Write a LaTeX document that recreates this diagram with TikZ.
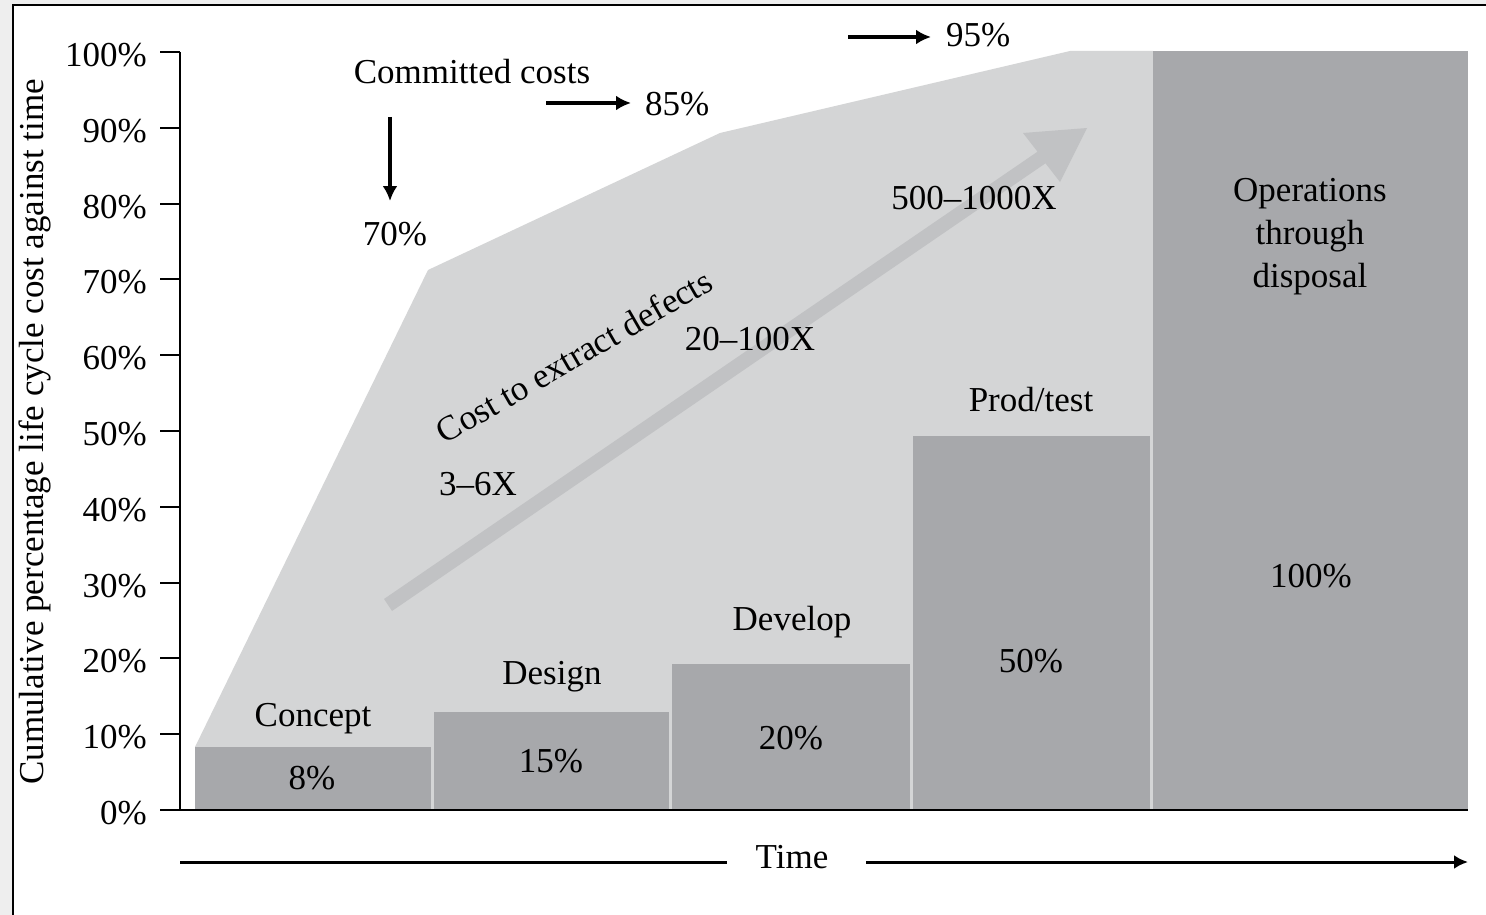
\documentclass[tikz,border=0pt]{standalone}
\usepackage{fontspec}
\setmainfont{Liberation Serif}
\usetikzlibrary{arrows.meta}
\definecolor{outerbg}{HTML}{EEEEEE}
\definecolor{barcol}{HTML}{A7A8AB}
\definecolor{areacol}{HTML}{D4D5D6}
\definecolor{arrowcol}{HTML}{C1C2C4}
\tikzset{
  lbl/.style={font=\fontsize{35}{43}\selectfont, inner sep=0pt},
  bar/.style={fill=barcol, draw=none},
  axisline/.style={line width=2pt, black},
  ptr/.style={line width=3.3pt, -{Latex[length=15pt,width=15pt]}},
}
\begin{document}
\begin{tikzpicture}[x=1pt,y=-1pt]
\useasboundingbox (0,0) rectangle (1486,915);
% frame
\fill[outerbg] (0,0) rectangle (1486,915);
\fill[white] (13,5) rectangle (1486,915);
\draw[line width=2.5pt] (13,915) -- (13,5) -- (1486,5);
% committed cost area
\fill[areacol] (195,810) -- (195,747) -- (428,270) -- (720,133) -- (1070,51) -- (1153,51) -- (1153,810) -- cycle;
% bars
\fill[bar] (195,747) rectangle (431,810);
\fill[bar] (434,712) rectangle (669,810);
\fill[bar] (672,664) rectangle (910,810);
\fill[bar] (913,436) rectangle (1150,810);
\fill[bar] (1153,51) rectangle (1468,810);
% wide arrow
\fill[arrowcol] (384,599) -- (1037.5,151.7) -- (1023,133) -- (1087,128) -- (1060,182) -- (1045.5,163.3) -- (392,611) -- cycle;
% axes
\draw[axisline] (180,52) -- (180,810) -- (1468,810);
\foreach \i in {0,...,10} {
  \pgfmathsetmacro{\yy}{810-75.8*\i}
  \draw[axisline] (160,\yy) -- (180,\yy);
  \pgfmathtruncatemacro{\pp}{10*\i}
  \node[lbl, anchor=east] (tick\i) at (147,\yy+3) {\pp\%};
}
\node[lbl, rotate=90] (ytitle) at (35,432) {Cumulative percentage life cycle cost against time};
% time axis
\node[lbl] (time) at (792,857) {Time};
\coordinate (tl) at (180,862);
\coordinate (tlend) at (727,862);
\coordinate (trstart) at (866,862);
\coordinate (tr) at (1468,862);
\draw[line width=3pt] (tl) -- (tlend);
\draw[line width=3pt, -{Latex[length=14pt,width=14pt]}] (trstart) -- (tr);
% committed costs
\node[lbl] (cc) at (472,72) {Committed costs};
\node[lbl] (p70) at (395,234) {70\%};
\node[lbl, anchor=west] (p85) at (645,104) {85\%};
\node[lbl, anchor=west] (p95) at (946,35) {95\%};
\coordinate (d0) at (390,117);
\coordinate (d1) at (390,201);
\draw[ptr] (d0) -- (d1);
\coordinate (a0) at (546,103);
\coordinate (a1) at (631,103);
\draw[ptr] (a0) -- (a1);
\coordinate (b0) at (848,37);
\coordinate (b1) at (931,37);
\draw[ptr] (b0) -- (b1);
% defect cost labels
\node[lbl, rotate=30] (cte) at (574,356) {Cost to extract defects};
\node[lbl] (x3) at (478,484) {3--6X};
\node[lbl] (x20) at (750,339) {20--100X};
\node[lbl] (x500) at (974,198) {500--1000X};
% phase labels
\node[lbl] (concept) at (313,719) {Concept};
\node[lbl] (design) at (552,677) {Design};
\node[lbl] (develop) at (792,622) {Develop};
\node[lbl] (prod) at (1031,400) {Prod/test};
\node[lbl, align=center] (ops) at (1310,237) {Operations\\through\\disposal};
% bar values
\node[lbl] (v8) at (312,778) {8\%};
\node[lbl] (v15) at (551,761) {15\%};
\node[lbl] (v20) at (791,738) {20\%};
\node[lbl] (v50) at (1031,661) {50\%};
\node[lbl] (v100) at (1311,576) {100\%};
\end{tikzpicture}
\end{document}
